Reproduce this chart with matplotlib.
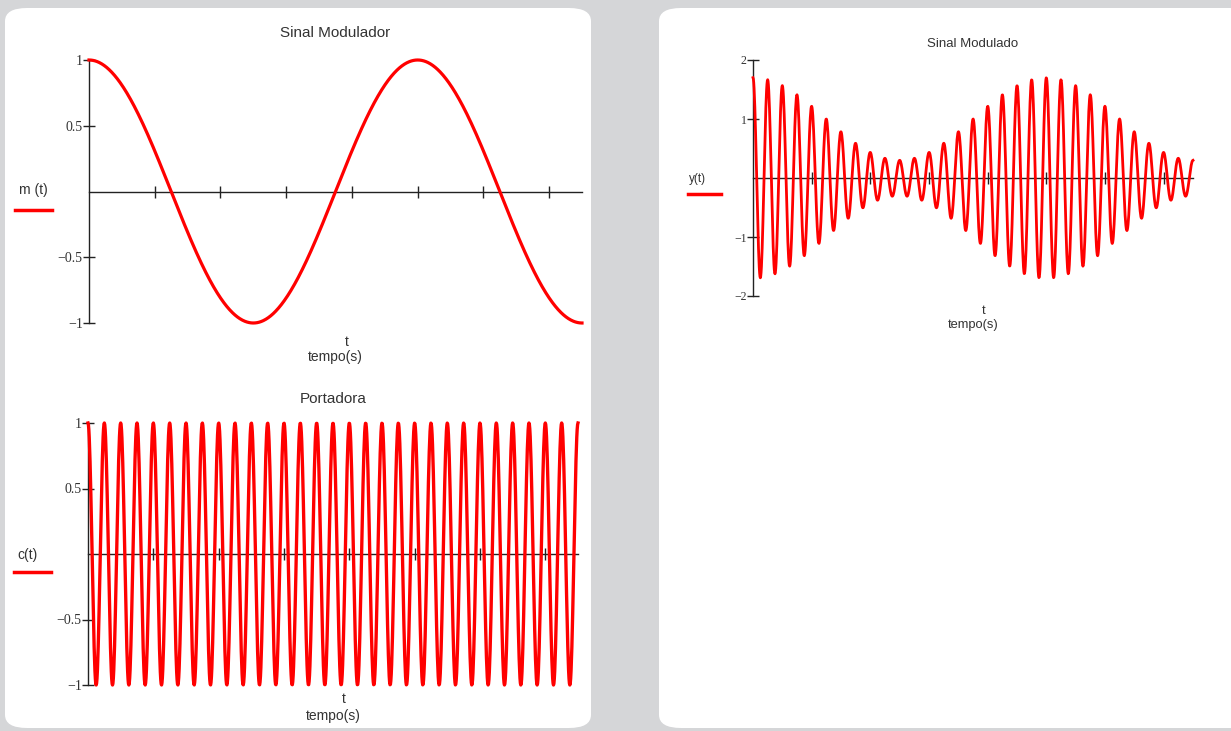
"""AM modulation demo: modulating signal, carrier and modulated signal."""
import matplotlib

matplotlib.use("Agg")
import matplotlib.pyplot as plt
import numpy as np
from matplotlib.patches import FancyBboxPatch

W, H = 1231, 731

# signal parameters
t_end = 1.5            # seconds shown (1.5 cycles of m(t))
f_mod = 1.0            # modulating frequency, Hz
f_carrier = 20.0       # carrier frequency, Hz (30 cycles over the window)
mod_index = 0.7        # envelope swings 1.7 .. 0.3
n_samples = 1200
x_ticks = [0.2, 0.4, 0.6, 0.8, 1.0, 1.2, 1.4]

mod_yticks = [-1, -0.5, 0.5, 1]
mod_ylabels = ["\u22121", "\u22120.5", "0.5", "1"]
car_yticks = [-1, -0.5, 0.5, 1]
car_ylabels = ["\u22121", "\u22120.5", "0.5", "1"]
am_yticks = [-2, -1, 1, 2]
am_ylabels = ["\u22122", "\u22121", "1", "2"]

t = np.linspace(0, t_end, n_samples)
m = np.cos(2 * np.pi * f_mod * t)
c = np.cos(2 * np.pi * f_carrier * t)
y = (1 + mod_index * m) * c

RED = "#ff0000"
TXT = "#333333"
BG = "#d5d6d8"


def box(x0, y0, x1, y1):
    return [x0 / W, 1 - y1 / H, (x1 - x0) / W, (y1 - y0) / H]


fig = plt.figure(figsize=(W / 100, H / 100), dpi=100)
fig.patch.set_facecolor(BG)

# white rounded panels, y from 8 px to ~728 px
for x0, x1 in ((5, 591), (659, 1260)):
    fig.patches.append(FancyBboxPatch(
        (x0 / W, 1 - 728 / H), (x1 - x0) / W, (728 - 8) / H,
        boxstyle="round,pad=0,rounding_size=0.018", transform=fig.transFigure,
        facecolor="white", edgecolor="none", zorder=-10))


def panel(rect, yy, ylim, yticks, ylabels, title, name, name_xy, line_x,
          fs, title_off, t_off, lw):
    ax = fig.add_axes(box(*rect))
    ax.patch.set_alpha(0)
    ax.plot(t, yy, color=RED, lw=lw, clip_on=False, zorder=3)
    ax.set_xlim(0, t_end)
    ax.set_ylim(*ylim)
    for s in ("top", "right"):
        ax.spines[s].set_visible(False)
    ax.spines["bottom"].set_position(("data", 0))
    ax.spines["left"].set_position(("data", 0))
    for s in ("bottom", "left"):
        ax.spines[s].set_color("#222222")
        ax.spines[s].set_linewidth(1.0)
        ax.spines[s].set_zorder(2)
    ax.set_xticks(x_ticks)
    ax.set_xticklabels([])
    ax.set_yticks(yticks)
    ax.set_yticklabels(ylabels, family="Liberation Serif", fontsize=fs["tick"],
                       color=TXT)
    ax.tick_params(axis="both", direction="inout", length=9, width=1.0,
                   color="#222222", pad=0)
    x0, y0, x1, y1 = rect
    cx = (x0 + x1) / 2
    fig.text(cx / W, 1 - (y0 - title_off) / H, title, ha="center", va="center",
             fontsize=fs["title"], color=TXT, family="Liberation Sans")
    fig.text((cx + 11) / W, 1 - (y1 + t_off[0]) / H, "t", ha="center",
             va="center", fontsize=fs["axis"], color=TXT, family="Liberation Sans")
    fig.text(cx / W, 1 - (y1 + t_off[1]) / H, "tempo(s)", ha="center",
             va="center", fontsize=fs["axis"], color=TXT, family="Liberation Sans")
    fig.text(name_xy[0] / W, 1 - name_xy[1] / H, name, ha="center", va="center",
             fontsize=fs["name"], color=TXT, family="Liberation Sans")
    fig.lines.append(plt.Line2D([line_x[0] / W, line_x[1] / W],
                                [1 - line_x[2] / H] * 2, color=RED, lw=2.5,
                                transform=fig.transFigure))
    return ax


left_fs = {"tick": 10, "title": 11, "axis": 10, "name": 10}
right_fs = {"tick": 8.5, "title": 9.5, "axis": 9.3, "name": 8.5}

panel((89, 60, 582, 323), m, (-1, 1), mod_yticks, mod_ylabels,
      "Sinal Modulador", "m (t)", (33, 190), (15, 52, 210),
      left_fs, 27, (19, 34), 2.3)
panel((88, 423, 578, 685), c, (-1, 1), car_yticks, car_ylabels,
      "Portadora", "c(t)", (28, 555), (14, 51, 572),
      left_fs, 24, (14, 31), 2.4)
panel((753, 60, 1193, 296), y, (-2, 2), am_yticks, am_ylabels,
      "Sinal Modulado", "y(t)", (698, 179), (688, 721, 194),
      right_fs, 16, (15, 29), 2.0)

fig.savefig("out.png", dpi=100, facecolor=BG)
